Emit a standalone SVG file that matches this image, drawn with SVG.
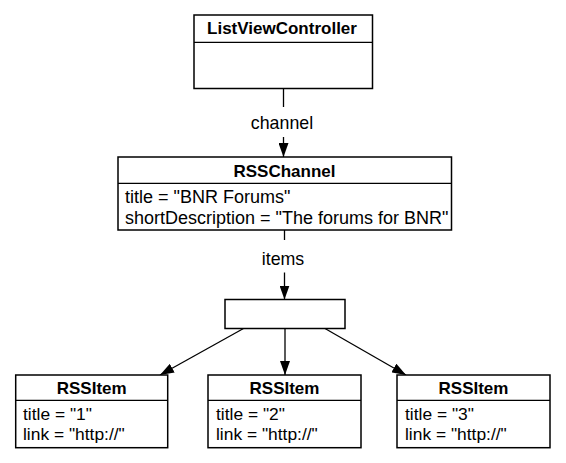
<svg xmlns="http://www.w3.org/2000/svg" width="566" height="463" viewBox="0 0 566 463">
<style>
  .box{fill:#fff;stroke:#000;stroke-width:1.5}
  .div{stroke:#000;stroke-width:1.2}
  .hdr{font-family:"Liberation Sans",Arial,sans-serif;font-weight:bold;font-size:17px;text-anchor:middle;fill:#000}
  .txt{font-family:"Liberation Sans",Arial,sans-serif;font-size:17.4px;fill:#000}
  .big{font-size:18px}
  .lbl{font-family:"Liberation Sans",Arial,sans-serif;font-size:17.8px;text-anchor:middle;fill:#000}
  .con{stroke:#000;stroke-width:1.3;fill:none}
</style>
<defs>
  <marker id="arr" markerUnits="userSpaceOnUse" markerWidth="14" markerHeight="10" refX="14" refY="5" orient="auto">
    <path d="M0,0 L14,5 L0,10 Z" fill="#000"/>
  </marker>
</defs>
<rect width="566" height="463" fill="#fff"/>
<g id="connectors">
  <line class="con" x1="283.5" y1="88" x2="283.5" y2="107"/>
  <text class="lbl" x="282" y="129">channel</text>
  <line class="con" x1="283.5" y1="137" x2="283.5" y2="157" marker-end="url(#arr)"/>
  <line class="con" x1="284.5" y1="230" x2="284.5" y2="240"/>
  <text class="lbl" x="283" y="265">items</text>
  <line class="con" x1="284.5" y1="272.5" x2="284.5" y2="299.5" marker-end="url(#arr)"/>
  <line class="con" x1="243.5" y1="328.5" x2="160" y2="375" marker-end="url(#arr)"/>
  <line class="con" x1="285" y1="328.5" x2="285" y2="375" marker-end="url(#arr)"/>
  <line class="con" x1="325" y1="328.5" x2="406" y2="375" marker-end="url(#arr)"/>
</g>
<g id="listViewController">
  <rect class="box" x="194" y="15" width="178.5" height="73.5"/>
  <line class="div" x1="194" y1="42.3" x2="372.5" y2="42.3"/>
  <text class="hdr" x="282" y="34">ListViewController</text>
</g>
<g id="rssChannel">
  <rect class="box" x="118" y="157" width="333.5" height="73"/>
  <line class="div" x1="118" y1="183.3" x2="451.5" y2="183.3"/>
  <text class="hdr" x="284.5" y="176.5">RSSChannel</text>
  <text class="txt big" x="125" y="203">title = "BNR Forums"</text>
  <text class="txt big" x="125" y="224">shortDescription = "The forums for BNR"</text>
</g>
<g id="itemsArray">
  <rect class="box" x="225" y="299.5" width="120" height="29"/>
</g>
<g id="rssItem1">
  <rect class="box" x="15.7" y="375" width="152" height="72.7"/>
  <line class="div" x1="15.7" y1="400.3" x2="167.7" y2="400.3"/>
  <text class="hdr" x="91.7" y="394">RSSItem</text>
  <text class="txt" x="23" y="420">title = "1"</text>
  <text class="txt" x="23" y="440">link = "http://"</text>
</g>
<g id="rssItem2">
  <rect class="box" x="208" y="375" width="153" height="72.7"/>
  <line class="div" x1="208" y1="400.3" x2="361" y2="400.3"/>
  <text class="hdr" x="284.5" y="394">RSSItem</text>
  <text class="txt" x="216" y="420">title = "2"</text>
  <text class="txt" x="216" y="440">link = "http://"</text>
</g>
<g id="rssItem3">
  <rect class="box" x="397" y="375" width="153" height="72.7"/>
  <line class="div" x1="397" y1="400.3" x2="550" y2="400.3"/>
  <text class="hdr" x="473.5" y="394">RSSItem</text>
  <text class="txt" x="405" y="420">title = "3"</text>
  <text class="txt" x="405" y="440">link = "http://"</text>
</g>
</svg>
